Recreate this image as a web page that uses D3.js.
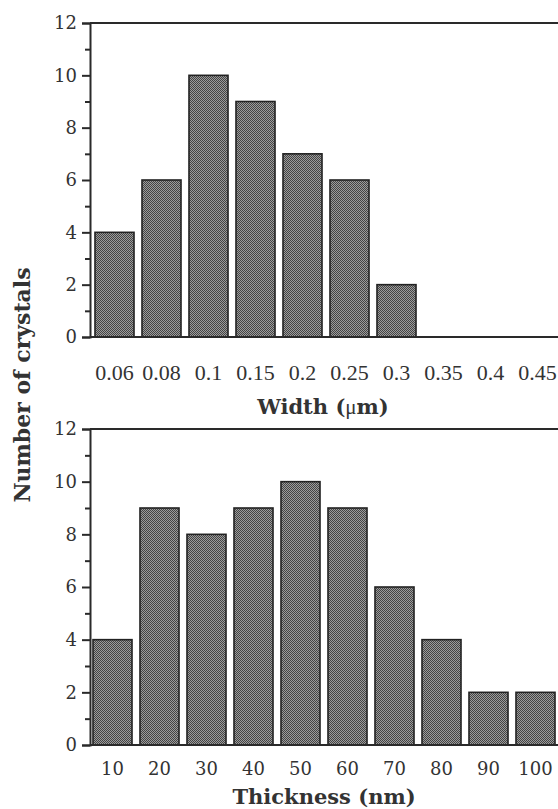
<!DOCTYPE html>
<html><head><meta charset="utf-8">
<script src="https://cdn.jsdelivr.net/npm/d3@7"></script>
<style>body{margin:0;background:#fff}svg{display:block}</style>
</head><body>
<script>
const widthCats = ["0.06","0.08","0.1","0.15","0.2","0.25","0.3","0.35","0.4","0.45"];
const widthCounts = [4,6,10,9,7,6,2,0,0,0];
const thickCats = ["10","20","30","40","50","60","70","80","90","100"];
const thickCounts = [4,9,8,9,10,9,6,4,2,2];
const yTicksMajor = [0,2,4,6,8,10,12];
const yTicksMinor = [1,3,5,7,9,11];

const W = 558, H = 809;
const svg = d3.select("body").append("svg").attr("width", W).attr("height", H);
const defs = svg.append("defs");
const pat = defs.append("pattern").attr("id","dots").attr("patternUnits","userSpaceOnUse")
  .attr("width",2).attr("height",2);
pat.append("rect").attr("width",2).attr("height",2).attr("fill","#9c9c9c");
pat.append("rect").attr("x",0).attr("y",0).attr("width",1).attr("height",1).attr("fill","#444");
pat.append("rect").attr("x",1).attr("y",1).attr("width",1).attr("height",1).attr("fill","#444");

const axisColor = "#2a2a2a";
const serifA = "'DejaVu Serif', serif";
const serifB = "'Liberation Serif', 'Times New Roman', serif";

function styleText(sel, fam, size) {
  sel.style("font-family", fam).style("font-size", size + "px").style("fill", "#333");
}

function panel(cats, vals, cfg) {
  const g = svg.append("g");
  const x = d3.scaleBand().domain(cats).range([cfg.x0, cfg.x1]).paddingInner(0.17).paddingOuter(0.085);
  const y = d3.scaleLinear().domain([0, 12]).range([cfg.yb, cfg.yt]);
  g.selectAll("rect.bar").data(cats.map((c,i)=>({c, v: vals[i]})).filter(d=>d.v>0))
    .enter().append("rect").attr("class","bar")
    .attr("x", d => x(d.c)).attr("width", x.bandwidth())
    .attr("y", d => y(d.v)).attr("height", d => y(0) - y(d.v))
    .attr("fill","url(#dots)").attr("stroke","#222").attr("stroke-width",1.6);
  const ax = d3.axisLeft(y).tickValues(yTicksMajor).tickSize(8).tickPadding(5).tickFormat(d3.format("d"));
  const ag = g.append("g").attr("transform", `translate(${cfg.axX},0)`).call(ax);
  ag.select(".domain").attr("stroke", axisColor).attr("stroke-width", 2);
  ag.selectAll(".tick line").attr("stroke", axisColor).attr("stroke-width", 2);
  styleText(ag.selectAll(".tick text"), serifA, 18);
  const axm = d3.axisLeft(y).tickValues(yTicksMinor).tickSize(5).tickFormat("");
  const amg = g.append("g").attr("transform", `translate(${cfg.axX},0)`).call(axm);
  amg.select(".domain").remove();
  amg.selectAll(".tick line").attr("stroke", axisColor).attr("stroke-width", 2);
  g.append("line").attr("x1", cfg.axX).attr("x2", W).attr("y1", y(12)).attr("y2", y(12))
    .attr("stroke", axisColor).attr("stroke-width", 2);
  g.append("line").attr("x1", cfg.axX).attr("x2", W).attr("y1", y(0)).attr("y2", y(0))
    .attr("stroke", axisColor).attr("stroke-width", 2);
  const bx = d3.axisBottom(x).tickSize(0).tickPadding(cfg.labPad);
  const bg = g.append("g").attr("transform", `translate(0,${cfg.yb})`).call(bx);
  bg.select(".domain").remove();
  styleText(bg.selectAll(".tick text"), cfg.labFam, cfg.labSize);
  return {x, y};
}

panel(widthCats, widthCounts, {x0: 91, x1: 561, yb: 337, yt: 23, axX: 90, labPad: 27, labFam: serifB, labSize: 22});
panel(thickCats, thickCounts, {x0: 89, x1: 559, yb: 745, yt: 429, axX: 90, labPad: 17, labFam: serifA, labSize: 18});

const t1 = svg.append("text").attr("x", 323).attr("y", 414).attr("text-anchor","middle")
  .style("font-family", serifA).style("font-weight","bold").style("font-size","21px").style("fill","#333");
t1.append("tspan").text("Width (");
t1.append("tspan").style("font-weight","normal").style("font-family", serifB).text("μ");
t1.append("tspan").text("m)");

svg.append("text").attr("x", 324).attr("y", 804).attr("text-anchor","middle")
  .style("font-family", serifA).style("font-weight","bold").style("font-size","21px").style("fill","#333")
  .text("Thickness (nm)");

svg.append("text").attr("transform","translate(30,385) rotate(-90)").attr("text-anchor","middle")
  .style("font-family", serifA).style("font-weight","bold").style("font-size","22px").style("fill","#333")
  .text("Number of crystals");
</script>
</body></html>
